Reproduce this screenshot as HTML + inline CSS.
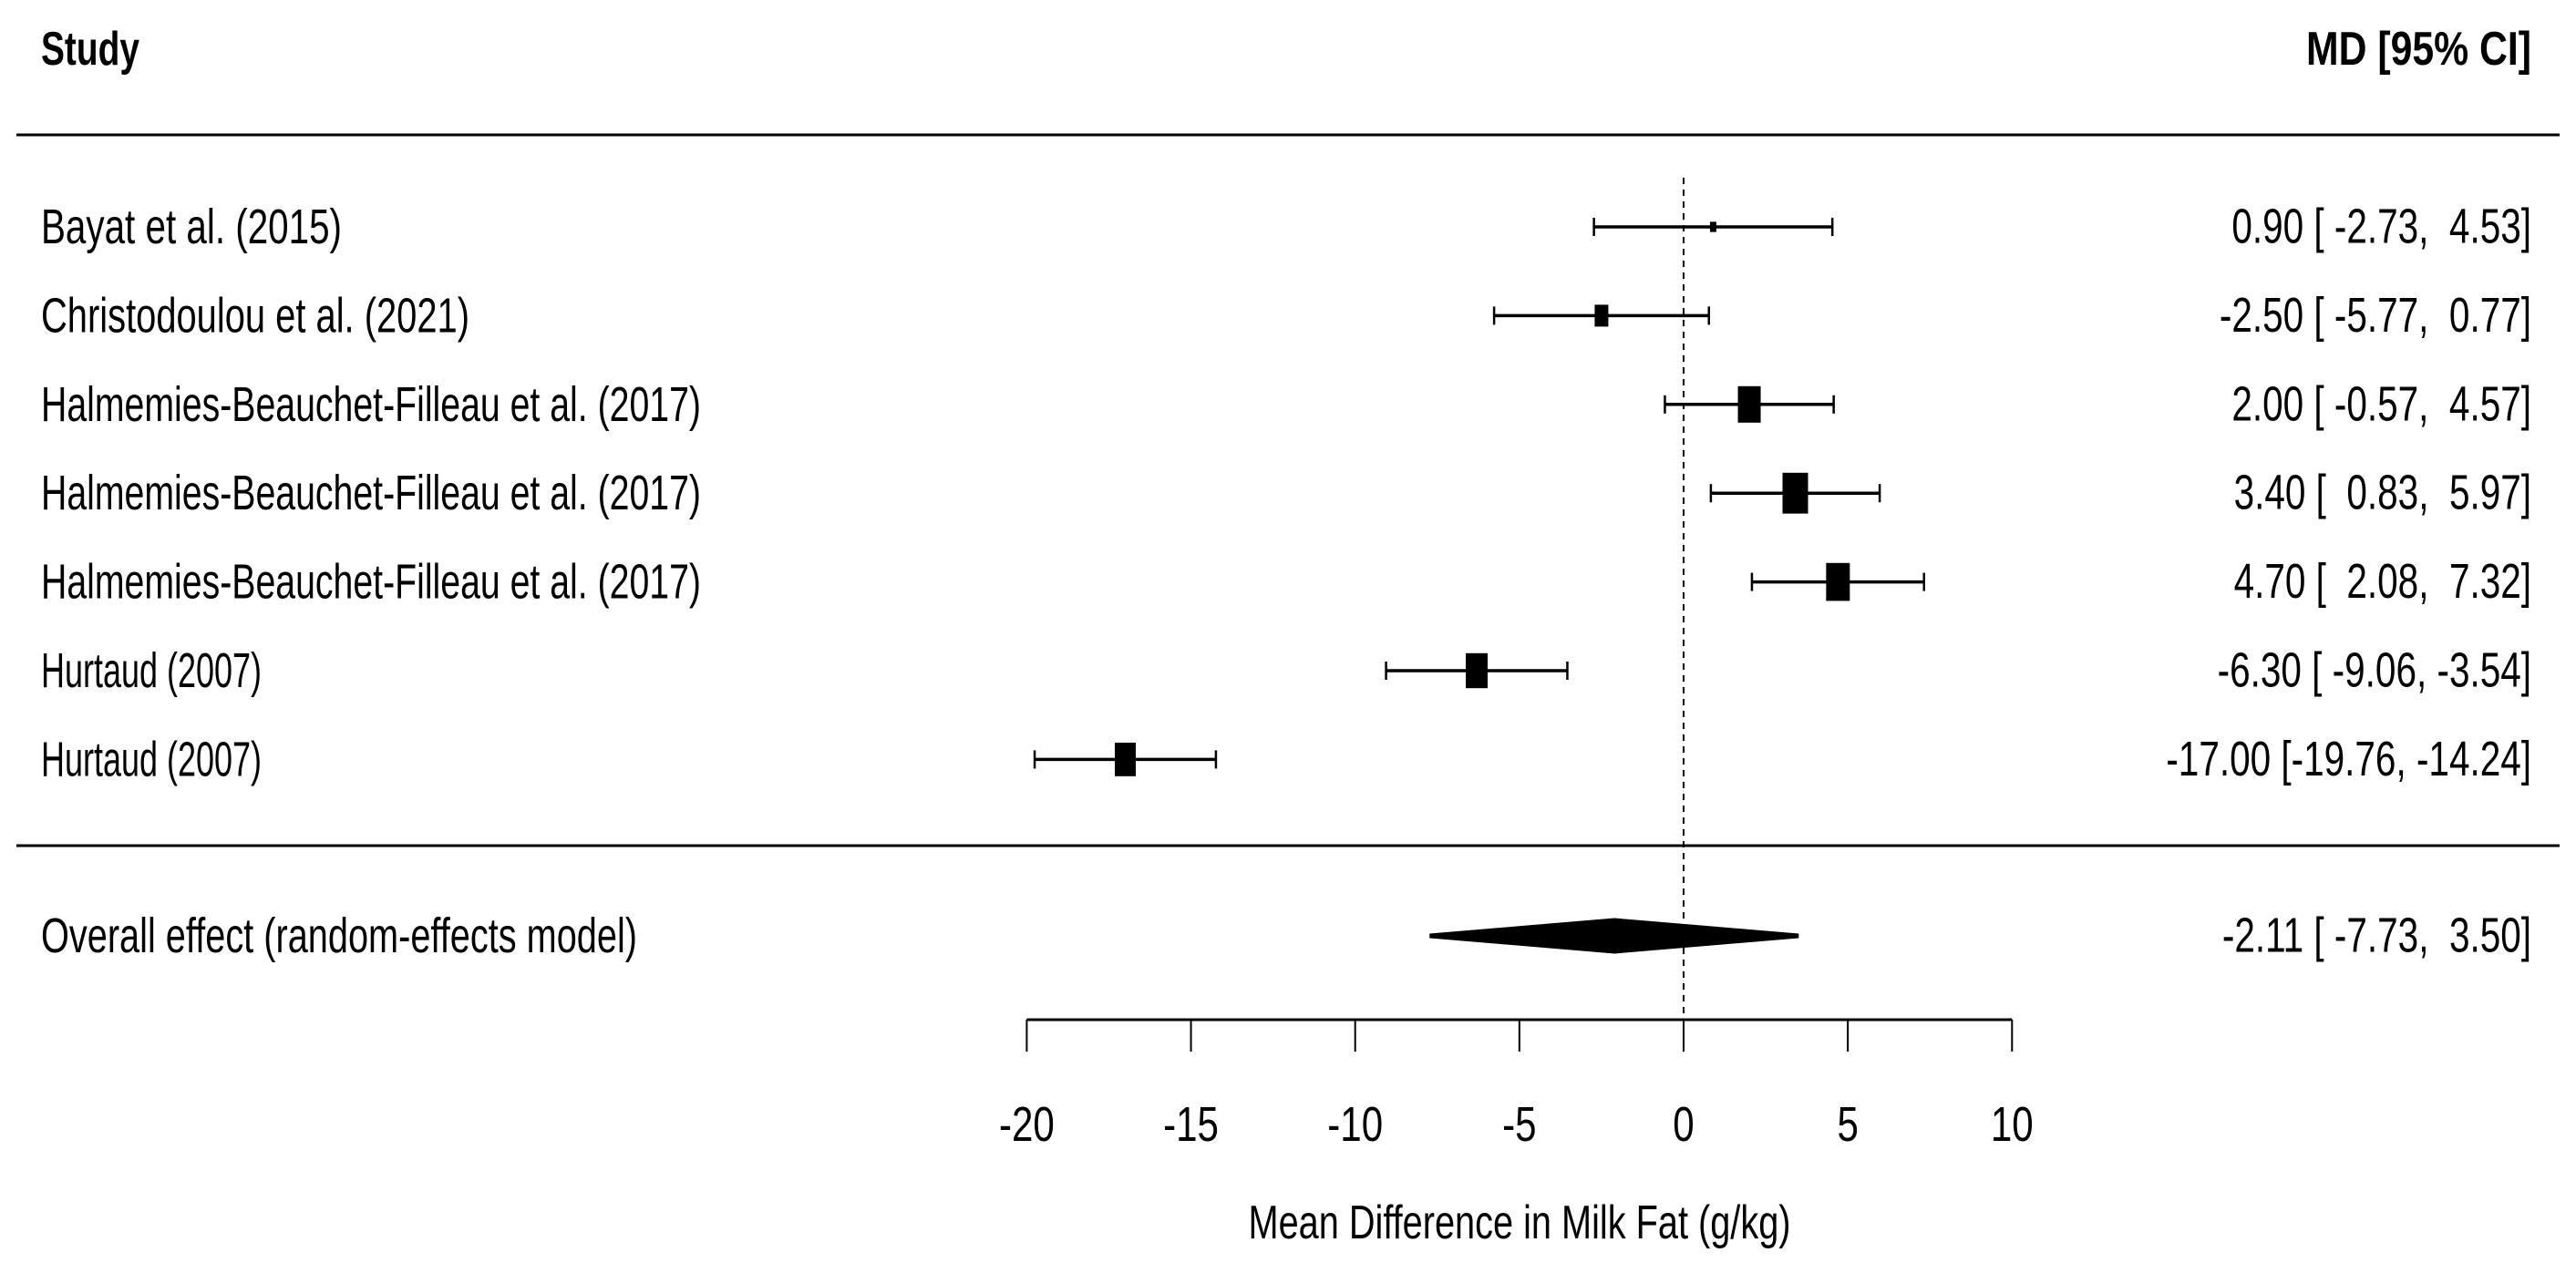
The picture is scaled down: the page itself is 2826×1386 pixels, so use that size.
<!DOCTYPE html>
<html><head><meta charset="utf-8"><style>
html,body{margin:0;padding:0;background:#fff;}
svg{display:block;}
text{font-family:"Liberation Sans",sans-serif;fill:#000;white-space:pre;}
</style></head><body>
<svg id="plot" width="2826" height="1386" viewBox="0 0 2826 1386" xmlns="http://www.w3.org/2000/svg">
<g id="layer"></g>
</svg>
<script>
const studies = ["Bayat et al. (2015)","Christodoulou et al. (2021)","Halmemies-Beauchet-Filleau et al. (2017)","Halmemies-Beauchet-Filleau et al. (2017)","Halmemies-Beauchet-Filleau et al. (2017)","Hurtaud (2007)","Hurtaud (2007)"];
const estimates = [0.90,-2.50,2.00,3.40,4.70,-6.30,-17.00];
const lower = [-2.73,-5.77,-0.57,0.83,2.08,-9.06,-19.76];
const upper = [4.53,0.77,4.57,5.97,7.32,-3.54,-14.24];
const weights = [7,15,25,28,26,24,23];
const ciText = ["0.90 [ -2.73,  4.53]","-2.50 [ -5.77,  0.77]","2.00 [ -0.57,  4.57]","3.40 [  0.83,  5.97]","4.70 [  2.08,  7.32]","-6.30 [ -9.06, -3.54]","-17.00 [-19.76, -14.24]"];
const labelWidths = [330,470,724,724,724,242,242];
const overall = [-2.11,-7.73,3.50];
const overallText = "-2.11 [ -7.73,  3.50]";
const ticks = [-20,-15,-10,-5,0,5,10];
const tickLabels = ["-20","-15","-10","-5","0","5","10"];

const NS="http://www.w3.org/2000/svg";
const g=document.getElementById('layer');
const x = v => 1847 + v*36.03;
const rowY = i => 249 + i*97.4;
function mk(tag, attrs, parent){const e=document.createElementNS(NS,tag);for(const k in attrs)e.setAttribute(k,attrs[k]);(parent||g).appendChild(e);return e;}

let t=mk('text',{x:45,y:54,'font-size':52,'font-weight':'bold','dominant-baseline':'central',textLength:108,lengthAdjust:'spacingAndGlyphs'});t.textContent='Study';


t=mk('text',{x:2777,y:54,'font-size':52,'font-weight':'bold','dominant-baseline':'central','text-anchor':'end',textLength:247,lengthAdjust:'spacingAndGlyphs'});t.textContent='MD [95% CI]';



let l=mk('line',{x1:18,x2:2808,y1:148,y2:148,stroke:'#000','stroke-width':3});


l=mk('line',{x1:18,x2:2808,y1:928,y2:928,stroke:'#000','stroke-width':3});


l=mk('line',{x1:x(0),x2:x(0),y1:195,y2:1119,stroke:'#000','stroke-width':2,'stroke-dasharray':'7,6'});



studies.forEach((s,i)=>{
  const y=rowY(i);
  let tx=mk('text',{x:45,y:y,'font-size':54,'dominant-baseline':'central',textLength:labelWidths[i],lengthAdjust:'spacingAndGlyphs'});tx.textContent=s;
  
  
  let gr=mk('g',{transform:`translate(2777,${y}) scale(0.75,1)`});
  let tv=mk('text',{x:0,y:0,'font-size':54,'dominant-baseline':'central','text-anchor':'end'},gr);tv.textContent=ciText[i];
  
  
  let ci=mk('line',{x1:x(lower[i]),x2:x(upper[i]),y1:y,y2:y,stroke:'#000','stroke-width':3.5});
  
  
  [lower[i],upper[i]].forEach(v=>{
    let c=mk('line',{x1:x(v),x2:x(v),y1:y-10,y2:y+10,stroke:'#000','stroke-width':2.5});
    
    
  });
  const w=weights[i], h=w*1.6;
  let r=mk('rect',{x:x(estimates[i])-w/2,y:y-h/2,width:w,height:h,fill:'#000'});
  
  
});

const oy=1027;
let ot=mk('text',{x:45,y:oy,'font-size':54,'dominant-baseline':'central',textLength:654,lengthAdjust:'spacingAndGlyphs'});ot.textContent='Overall effect (random-effects model)';


let og=mk('g',{transform:`translate(2777,${oy}) scale(0.75,1)`});
let ov=mk('text',{x:0,y:0,'font-size':54,'dominant-baseline':'central','text-anchor':'end'},og);ov.textContent=overallText;


let d=mk('polygon',{points:`${x(overall[1])},${oy} ${x(overall[0])},${oy-17} ${x(overall[2])},${oy} ${x(overall[0])},${oy+17}`,fill:'#000',stroke:'#000','stroke-width':5,'stroke-linejoin':'miter'});



let ax=mk('line',{x1:x(ticks[0]),x2:x(ticks[ticks.length-1]),y1:1119,y2:1119,stroke:'#000','stroke-width':3});


ticks.forEach((v,i)=>{
  let tk=mk('line',{x1:x(v),x2:x(v),y1:1119,y2:1154,stroke:'#000','stroke-width':2});
  
  
  let gg=mk('g',{transform:`translate(${x(v)},1234) scale(0.78,1)`});
  let tl=mk('text',{x:0,y:0,'font-size':54,'dominant-baseline':'central','text-anchor':'middle'},gg);tl.textContent=tickLabels[i];
  
  
});
let at=mk('text',{x:1667,y:1342,'font-size':52,'dominant-baseline':'central','text-anchor':'middle',textLength:595,lengthAdjust:'spacingAndGlyphs'});at.textContent='Mean Difference in Milk Fat (g/kg)';


</script>
</body></html>
